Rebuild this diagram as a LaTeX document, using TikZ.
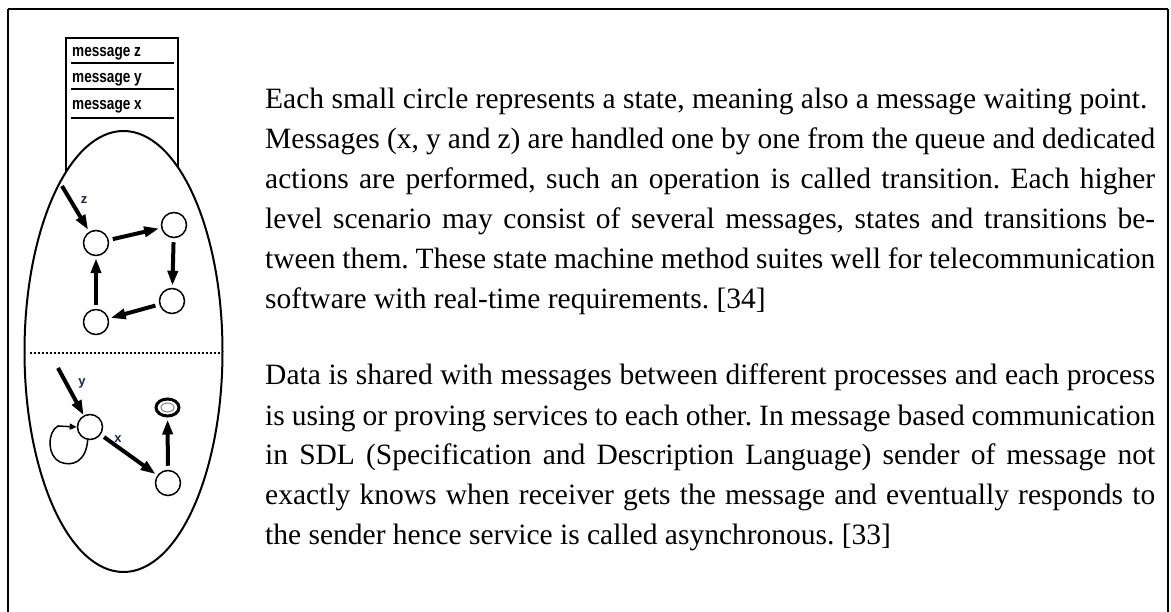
\documentclass[tikz,border=0pt]{standalone}
\usepackage{fontspec}
\setmainfont{Liberation Serif}
\setsansfont{Liberation Sans}
\usetikzlibrary{arrows.meta,shapes.geometric}
\definecolor{lblue}{RGB}{28,36,72}
\begin{document}
\begin{tikzpicture}[x=1pt,y=-1pt,
  state/.style={circle, draw, line width=1.5pt, minimum size=25pt, inner sep=0pt},
  bigarrow/.style={line width=4pt, -{Triangle[length=15pt,width=10pt]}, shorten <=4pt, shorten >=2pt},
  loopline/.style={line width=1.5pt, -{Triangle[length=7pt,width=6pt]}},
  queuetext/.style={anchor=base west, inner sep=0pt, font=\sffamily\bfseries\fontsize{17}{17}\selectfont},
  evlabel/.style={inner sep=0pt, text=lblue, font=\sffamily\bfseries\fontsize{13}{13}\selectfont},
  body/.style={anchor=base west, inner sep=0pt}
]
\useasboundingbox (0,0) rectangle (1171,612);
\begin{scope}
\clip (0,0) rectangle (1171,612);
% outer frame (its lower edge lies below the page)
\draw[line width=2.4pt] (8,640) -- (8,9);
\draw[line width=2pt] (8,9) -- (1168,9);
\draw[line width=1.6pt] (1168,9) -- (1168,640);
\end{scope}

% message queue
\draw[line width=1.5pt] (66,220) -- (66,38) -- (178,38) -- (178,220);
\foreach \yy in {63,89,118} \draw[line width=1.5pt] (71,\yy) -- (174,\yy);
\node[queuetext] (qz) at (72,57) {\scalebox{0.8}[1]{message z}};
\node[queuetext] (qy) at (72,83) {\scalebox{0.8}[1]{message y}};
\node[queuetext] (qx) at (72,110) {\scalebox{0.8}[1]{message x}};

% process body
\draw[line width=2pt, fill=white] (123.5,351.5) ellipse [x radius=99, y radius=220.5];
\draw[line width=1.6pt, dash pattern=on 2pt off 2pt] (30,353) -- (220,353);

% upper state machine
\node[state] (A) at (96,243) {};
\node[state] (B) at (174,225) {};
\node[state] (C) at (172,301) {};
\node[state] (D) at (96,322) {};
\coordinate (zin) at (62,186);
\draw[bigarrow, shorten <=0pt] (zin) -- (A);
\node[evlabel] (lz) at (84,200) {z};
\draw[bigarrow] (A) -- (B);
\draw[bigarrow] (B) -- (C);
\draw[bigarrow] (C) -- (D);
\draw[bigarrow] (D) -- (A);

% lower state machine
\node[state] (E) at (90,427) {};
\node[state] (F) at (168,483) {};
\node[draw, ellipse, line width=3pt, minimum width=23pt, minimum height=17pt, inner sep=0pt] (G) at (167.5,407.5) {};
\draw[gray, line width=1pt] (G.center) ellipse [x radius=6.5, y radius=4.5];
\coordinate (yin) at (58,368);
\draw[bigarrow, shorten <=0pt, shorten >=0pt] (yin) -- (E);
\node[evlabel] (ly) at (82,383) {y};
\draw[bigarrow] (E) -- (F);
\node[evlabel] (lx) at (118,439) {x};
\draw[bigarrow] (F) -- (G);
\draw[loopline] (E.-100) .. controls (86,462) and (72,467) .. (60,462)
  .. controls (47,456) and (47,432) .. (58,426) -- (E.west);

% explanatory text
\node[body] (p1) at (265,109) {\parbox[t]{890pt}{\fontsize{29.5}{40}\selectfont\parindent=0pt\frenchspacing
Each small circle represents a state, meaning also a message waiting point.\\
\makebox[\linewidth][s]{Messages (x, y and z) are handled one by one from the queue and dedicated}\\
\makebox[\linewidth][s]{actions are performed, such an operation is called transition. Each higher}\\
\makebox[\linewidth][s]{level scenario may consist of several messages, states and transitions be-}\\
\makebox[\linewidth][s]{tween them. These state machine method suites well for telecommunication}\\
software with real-time requirements. [34]}};
\node[body] (p2) at (265,385) {\parbox[t]{890pt}{\fontsize{29.5}{40}\selectfont\parindent=0pt\frenchspacing
\makebox[\linewidth][s]{Data is shared with messages between different processes and each process}\\
\makebox[\linewidth][s]{is using or proving services to each other. In message based communication}\\
\makebox[\linewidth][s]{in SDL (Specification and Description Language) sender of message not}\\
\makebox[\linewidth][s]{exactly knows when receiver gets the message and eventually responds to}\\
the sender hence service is called asynchronous. [33]}};
\end{tikzpicture}
\end{document}
